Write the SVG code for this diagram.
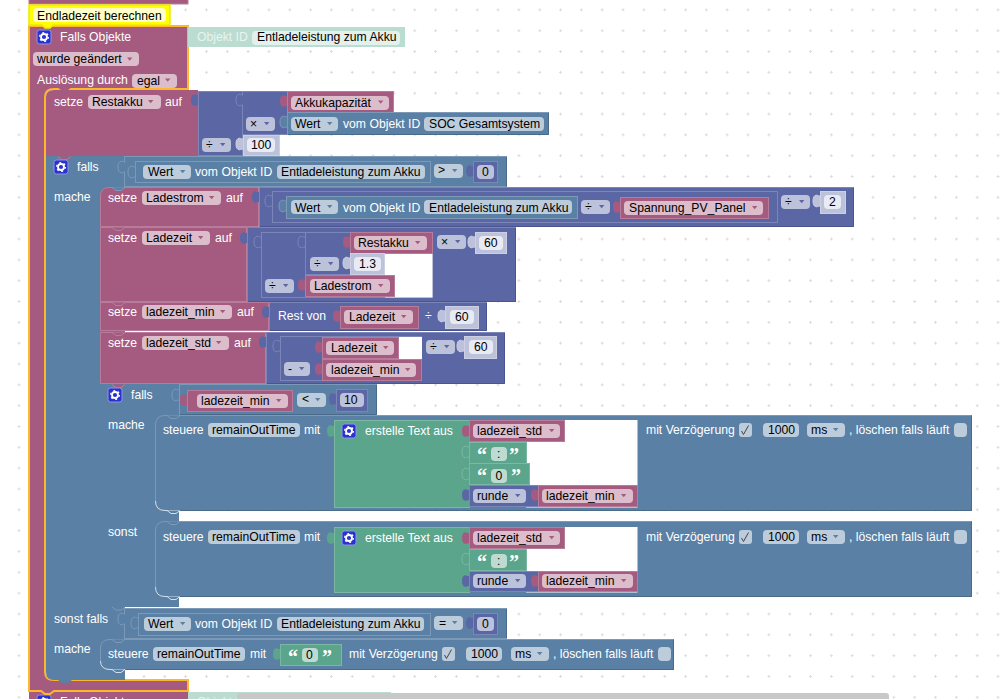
<svg xmlns="http://www.w3.org/2000/svg" width="1001" height="699" viewBox="0 0 1001 699">
<style>
text{font-family:"Liberation Sans",Arial,sans-serif;font-size:12.2px;fill:#000;white-space:pre}
text.w{fill:#fff}
.P{fill:#a55b80;stroke:#b77c99;stroke-width:1}
.B{fill:#5b80a5;stroke:#7c99b7;stroke-width:1}
.M{fill:#5b67a5;stroke:#7c85b7;stroke-width:1}
.G{fill:#5ba58c;stroke:#7cb7a3;stroke-width:1}
.S{fill:#bdc2db;stroke:#cdd0e4;stroke-width:1}
.fp{fill:#dbbdcc}.fb{fill:#bdccdb}.fm{fill:#bdc2db}.fg{fill:#bddbd1}
.fw{fill:#e9ebf4}
.cP{fill:#a55b80}.cB{fill:#5b80a5}.cM{fill:#5b67a5}.cG{fill:#5ba58c}.cS{fill:#bdc2db}
.oB{fill:#5b80a5;stroke:#7c99b7;stroke-width:1}.oM{fill:#5b67a5;stroke:#7c85b7;stroke-width:1}.oG{fill:#5ba58c;stroke:#7cb7a3;stroke-width:1}.oS{fill:#bdc2db;stroke:#cdd0e4;stroke-width:1}
.nP{fill:#a55b80;stroke:#b77c99;stroke-width:1}.nB{fill:#5b80a5;stroke:#7c99b7;stroke-width:1}.nW{fill:#5b80a5;stroke:#d5dfe9;stroke-width:1}
.ap{fill:#a55b80}.ab{fill:#5b80a5}.am{fill:#5b67a5}
.q{font-family:"Liberation Serif",serif;font-size:20px;font-weight:bold;fill:#fff}
.hb{fill:none;stroke:#7c99b7;stroke-width:1}
.hw{fill:none;stroke:#d5dfe9;stroke-width:1}
.db{fill:none;stroke:#4a6a8a;stroke-width:1}
.dm{fill:none;stroke:#4a5590;stroke-width:1}
</style>
<defs>
<pattern id="grid" x="17.5" y="8.4" width="20.83" height="20.83" patternUnits="userSpaceOnUse">
<path d="M0,1.5h3M1.5,0v3" stroke="#dcdcdc" stroke-width="1" fill="none"/>
</pattern>
<path id="a" d="M0,0h5.4l-2.700,3.200z"/>
<path id="tab" d="M0,5C-2,5 -2.500,4 -3.800,4.200C-6,4.600 -7,6.500 -7,10C-7,13.500 -6,15.400 -3.800,15.800C-2.500,16 -2,15 0,15"/>
<path id="n" d="M0,0l4,3h5l4,-3"/>
<g id="gear">
<rect width="14" height="14" rx="2.500" fill="#2a33cf" stroke="#8f95e6" stroke-width="1"/>
<circle cx="7" cy="7" r="3" fill="none" stroke="#fff" stroke-width="1.800"/>
<circle cx="7" cy="7" r="4.300" fill="none" stroke="#fff" stroke-width="1.400" stroke-dasharray="1.900 2.600"/>
</g>
</defs>
<rect width="1001" height="699" fill="#fff"/>
<rect width="1001" height="699" fill="url(#grid)"/>

<g id="previous-block"><rect x="29" y="-2" width="159" height="6" class="P"/></g>

<g id="next-block">
<rect x="29" y="692" width="159" height="8" fill="#a55b80"/>
<use href="#gear" x="37" y="695"/>
<text class="w" x="60" y="706">Falls Objekte</text>
<rect x="188" y="692" width="203" height="8" fill="#bbdcd1"/>
<text x="197" y="706" style="fill:#e9f4f0">Objekt ID</text>
<path d="M237,699V696Q237,693 240,693H886Q889,693 889,696V699z" fill="#c8c8c8"/>
</g>

<g id="trigger-falls-objekte">
<path d="M29,26H188V89H71l-4,3h-5l-4,-3H54Q45,89 45,97V672Q45,680 54,680H188V691H54l-4,3h-5l-4,-3H29z" fill="#a55b80" stroke="#fdb72c" stroke-width="2"/>
<use href="#gear" x="37" y="30"/>
<text class="w" x="60" y="41">Falls Objekte</text>
<rect x="33" y="52" width="106" height="14" rx="4" class="fp"/><text x="37" y="63">wurde geändert</text><use href="#a" x="127" y="57.500" class="ap"/>
<text class="w" x="37" y="84">Auslösung durch</text>
<rect x="132" y="74" width="45" height="14" rx="4" class="fp"/><text x="137" y="84.500">egal</text><use href="#a" x="165" y="78.500" class="ap"/>
</g>

<g id="comment">
<path d="M29,5H170V25H53l-3,3h-5l-3,-3H29z" fill="#ffff00" stroke="#ecec00" stroke-width="1.500"/>
<rect x="33" y="8" width="133" height="14" rx="4" fill="#ffffcc"/>
<text x="37" y="19.500">Endladezeit berechnen</text>
</g>

<g id="objekt-id-shadow">
<rect x="188" y="27" width="217" height="20" fill="#bbdcd1"/>
<text x="197" y="41" style="fill:#e9f4f0">Objekt ID</text>
<rect x="252" y="31" width="148" height="14" rx="4" fill="#e3f0eb"/><text x="257" y="41">Entladeleistung zum Akku</text>
</g>

<g id="setze-restakku">
<path d="M54,90H198V156H46V97Q46,90 54,90z" fill="#a55b80"/>
<text class="w" x="54" y="106">setze</text>
<rect x="88" y="95" width="73" height="14" rx="4" class="fp"/><text x="92" y="106">Restakku</text><use href="#a" x="148" y="100" class="ap"/>
<text class="w" x="165" y="106">auf</text>
<rect x="198.500" y="91.500" width="44" height="64" class="M"/>
<rect x="242.500" y="91.500" width="45" height="43" class="M"/>
<rect x="287.500" y="91.500" width="106" height="21" class="P"/>
<rect x="291" y="96" width="98" height="14" rx="4" class="fp"/><text x="295" y="106.500">Akkukapazität</text><use href="#a" x="378" y="100.500" class="ap"/>
<rect x="246" y="117" width="29" height="14" rx="4" class="fm"/><text x="250" y="127.500">×</text><use href="#a" x="264" y="122" class="am"/>
<rect x="287.500" y="112.500" width="261" height="22" class="B"/>
<path class="db" d="M548.500,113V134.500H288"/>
<rect x="291" y="117" width="47" height="14" rx="4" class="fb"/><text x="295" y="128">Wert</text><use href="#a" x="327" y="122" class="ab"/>
<text class="w" x="343" y="128">vom Objekt ID</text>
<rect x="424" y="117" width="120" height="14" rx="4" class="fb"/><text x="429" y="128">SOC Gesamtsystem</text>
<rect x="202" y="138" width="29" height="14" rx="4" class="fm"/><text x="206" y="149">÷</text><use href="#a" x="220" y="143" class="am"/>
<rect x="243.500" y="135.500" width="36" height="20" class="S"/>
<rect x="247" y="138" width="28" height="14" rx="4" class="fw"/><text x="251" y="149">100</text>
</g>

<g id="falls-1">
<path d="M46,156H125V680H72l-4,3h-6l-4,-3H54Q46,680 46,672z" fill="#5b80a5"/>
<rect x="124.500" y="156.500" width="382" height="30" class="B"/>
<path class="db" d="M506.500,157V186.500"/>
<use href="#gear" x="54" y="160"/>
<text class="w" x="77" y="171">falls</text>
<text class="w" x="54" y="201">mache</text>
<rect x="135.500" y="161.500" width="295" height="21" class="B"/>
<rect x="143" y="165" width="48" height="14" rx="4" class="fb"/><text x="148" y="176">Wert</text><use href="#a" x="180" y="170" class="ab"/>
<text class="w" x="195" y="176">vom Objekt ID</text>
<rect x="277" y="165" width="148" height="14" rx="4" class="fb"/><text x="281" y="176">Entladeleistung zum Akku</text>
<rect x="434" y="164" width="29" height="14" rx="4" class="fb"/><text x="438" y="174">&gt;</text><use href="#a" x="452" y="169" class="ab"/>
<rect x="473.500" y="161.500" width="24" height="21" class="M"/>
<rect x="477" y="165" width="17" height="14" rx="4" class="fm"/><text x="482" y="176">0</text>
</g>

<g id="setze-ladestrom">
<path class="P" d="M100.500,196Q100.500,187.500 109,187.500H258.500V226.500H100.500z"/>
<text class="w" x="108" y="202">setze</text>
<rect x="142" y="191" width="79" height="14" rx="4" class="fp"/><text x="146" y="202">Ladestrom</text><use href="#a" x="209" y="196" class="ap"/>
<text class="w" x="226" y="202">auf</text>
<rect x="259.500" y="187.500" width="594" height="39" class="M"/>
<path class="dm" d="M853.500,188V226.500H260"/>
<rect x="272.500" y="191.500" width="505" height="31" class="M"/>
<rect x="286.500" y="196.500" width="291" height="22" class="B"/>
<rect x="291" y="200" width="47" height="14" rx="4" class="fb"/><text x="295" y="211.500">Wert</text><use href="#a" x="327" y="205" class="ab"/>
<text class="w" x="343" y="211.500">vom Objekt ID</text>
<rect x="424" y="200" width="148" height="14" rx="4" class="fb"/><text x="429" y="211.500">Entladeleistung zum Akku</text>
<rect x="581" y="200" width="29" height="14" rx="4" class="fm"/><text x="585" y="211">÷</text><use href="#a" x="599" y="205" class="am"/>
<rect x="620.500" y="197.500" width="148" height="21" class="P"/>
<rect x="624" y="201" width="139" height="14" rx="4" class="fp"/><text x="629" y="212">Spannung_PV_Panel</text><use href="#a" x="752" y="206" class="ap"/>
<rect x="781" y="195" width="29" height="14" rx="4" class="fm"/><text x="785" y="206">÷</text><use href="#a" x="799" y="200" class="am"/>
<rect x="820.500" y="191.500" width="25" height="22" class="S"/>
<rect x="824" y="195" width="17" height="14" rx="4" class="fw"/><text x="829" y="206">2</text>
</g>

<g id="setze-ladezeit">
<rect x="100.500" y="227.500" width="146" height="74" class="P"/>
<text class="w" x="108" y="242">setze</text>
<rect x="142" y="231" width="68" height="14" rx="4" class="fp"/><text x="146" y="242">Ladezeit</text><use href="#a" x="198" y="236" class="ap"/>
<text class="w" x="215" y="242">auf</text>
<rect x="247.500" y="227.500" width="268" height="74" class="M"/>
<path class="dm" d="M515.500,228V301.500H248"/>
<rect x="261.500" y="232.500" width="171" height="65" class="M"/>
<rect x="305.500" y="232.500" width="80" height="42" class="M"/>
<rect x="385" y="253" width="47.500" height="44.500" fill="#fff"/>
<rect x="350.500" y="232.500" width="82" height="21" class="P"/>
<rect x="354" y="236" width="73" height="14" rx="4" class="fp"/><text x="358" y="247">Restakku</text><use href="#a" x="415" y="241" class="ap"/>
<rect x="310" y="257" width="29" height="14" rx="4" class="fm"/><text x="314" y="268">÷</text><use href="#a" x="328" y="262" class="am"/>
<rect x="350.500" y="253.500" width="34" height="21" class="S"/>
<rect x="354" y="257" width="27" height="14" rx="4" class="fw"/><text x="359" y="268">1.3</text>
<rect x="265" y="279" width="29" height="14" rx="4" class="fm"/><text x="269" y="290">÷</text><use href="#a" x="283" y="284" class="am"/>
<rect x="305.500" y="275.500" width="89" height="21" class="P"/>
<rect x="310" y="279" width="80" height="14" rx="4" class="fp"/><text x="314" y="290">Ladestrom</text><use href="#a" x="378" y="284" class="ap"/>
<rect x="437" y="235" width="29" height="14" rx="4" class="fm"/><text x="441" y="246">×</text><use href="#a" x="455" y="240" class="am"/>
<rect x="475.500" y="232.500" width="31" height="21" class="S"/>
<rect x="479" y="236" width="24" height="14" rx="4" class="fw"/><text x="484" y="247">60</text>
</g>

<g id="setze-ladezeit-min">
<rect x="100.500" y="302.500" width="168" height="28" class="P"/>
<text class="w" x="108" y="316">setze</text>
<rect x="142" y="305" width="90" height="14" rx="4" class="fp"/><text x="146" y="316">ladezeit_min</text><use href="#a" x="220" y="310" class="ap"/>
<text class="w" x="237" y="316">auf</text>
<rect x="269.500" y="302.500" width="217" height="28" class="M"/>
<path class="dm" d="M486.500,303V330.500H270"/>
<text class="w" x="278" y="320">Rest von</text>
<rect x="340.500" y="306.500" width="78" height="22" class="P"/>
<rect x="344" y="310" width="69" height="14" rx="4" class="fp"/><text x="349" y="320.500">Ladezeit</text><use href="#a" x="401" y="315" class="ap"/>
<text class="w" x="425" y="320">÷</text>
<rect x="445.500" y="306.500" width="33" height="22" class="S"/>
<rect x="450" y="310" width="24" height="14" rx="4" class="fw"/><text x="455" y="321">60</text>
</g>

<g id="setze-ladezeit-std">
<rect x="100.500" y="332.500" width="165" height="51" class="P"/>
<text class="w" x="108" y="347">setze</text>
<rect x="142" y="336" width="87" height="14" rx="4" class="fp"/><text x="146" y="347">ladezeit_std</text><use href="#a" x="216" y="341" class="ap"/>
<text class="w" x="234" y="347">auf</text>
<rect x="266.500" y="332.500" width="238" height="51" class="M"/>
<path class="dm" d="M504.500,333V383.500H267"/>
<rect x="280.500" y="336.500" width="141" height="44" class="M"/>
<rect x="398" y="337" width="24" height="22" fill="#fff"/>
<rect x="322.500" y="337.500" width="76" height="21" class="P"/>
<rect x="326" y="341" width="68" height="14" rx="4" class="fp"/><text x="331" y="352">Ladezeit</text><use href="#a" x="383" y="346" class="ap"/>
<rect x="284" y="362" width="26" height="14" rx="4" class="fm"/><text x="288" y="373">-</text><use href="#a" x="299" y="367" class="am"/>
<rect x="322.500" y="359.500" width="99" height="21" class="P"/>
<rect x="326" y="363" width="90" height="14" rx="4" class="fp"/><text x="331" y="373.500">ladezeit_min</text><use href="#a" x="405" y="368" class="ap"/>
<rect x="426" y="340" width="29" height="14" rx="4" class="fm"/><text x="430" y="351">÷</text><use href="#a" x="444" y="345" class="am"/>
<rect x="464.500" y="336.500" width="32" height="22" class="S"/>
<rect x="469" y="340" width="24" height="14" rx="4" class="fw"/><text x="474" y="351">60</text>
</g>

<g id="falls-2">
<path d="M100,384H179V521H179V607H100z" fill="#5b80a5"/>
<rect x="179.500" y="384.500" width="197" height="30.500" class="B"/>
<path class="db" d="M376.500,385V414.500H180"/>
<use href="#gear" x="108" y="388"/>
<text class="w" x="131" y="399">falls</text>
<text class="w" x="108" y="429">mache</text>
<text class="w" x="108" y="536">sonst</text>
<rect x="187.500" y="390.500" width="105" height="21" class="P"/>
<rect x="197" y="394" width="91" height="14" rx="4" class="fp"/><text x="201" y="404.500">ladezeit_min</text><use href="#a" x="276" y="399" class="ap"/>
<rect x="297" y="393" width="29" height="14" rx="4" class="fb"/><text x="302" y="403">&lt;</text><use href="#a" x="315" y="398" class="ab"/>
<rect x="336.500" y="389.500" width="31" height="22" class="M"/>
<rect x="340" y="393" width="24" height="14" rx="4" class="fm"/><text x="344" y="404">10</text>
</g>

<g id="steuere-1">
<path d="M155,425Q155,415 165,415H972V511H165Q155,511 155,501z" fill="#5b80a5"/>
<path class="hb" d="M155.500,501V425Q155.500,415.500 165,415.500H971"/>
<path class="hw" d="M155.500,501Q155.500,510.500 165,510.500H179"/>
<path class="db" d="M971.500,416V510.500H180"/>
<path d="M565,420H637.500V507.500H526V442H565z" fill="#fff"/>
<text class="w" x="163" y="434">steuere</text>
<rect x="208" y="423" width="92" height="14" rx="4" class="fb"/><text x="212" y="434">remainOutTime</text>
<text class="w" x="304" y="434">mit</text>
<rect x="334.500" y="420.500" width="135" height="87" class="G"/>
<use href="#gear" x="342" y="424"/>
<text class="w" x="365" y="435">erstelle Text aus</text>
<rect x="469.500" y="420.500" width="95" height="21" class="P"/>
<rect x="473" y="424" width="87" height="14" rx="4" class="fp"/><text x="477" y="435">ladezeit_std</text><use href="#a" x="549" y="429" class="ap"/>
<rect x="469.500" y="442.500" width="57" height="21" class="G"/>
<text class="q" x="477" y="462">“</text><rect x="491" y="447" width="16" height="14" rx="4" class="fg"/><text x="497" y="458">:</text><text class="q" x="509" y="462">”</text>
<rect x="469.500" y="463.500" width="60" height="21" class="G"/>
<text class="q" x="477" y="483">“</text><rect x="491" y="469" width="16" height="14" rx="4" class="fg"/><text x="495.500" y="480">0</text><text class="q" x="511" y="483">”</text>
<rect x="469.500" y="485.500" width="69" height="21" class="M"/>
<rect x="473" y="489" width="53" height="14" rx="4" class="fm"/><text x="477" y="500">runde</text><use href="#a" x="515" y="494" class="am"/>
<rect x="538.500" y="485.500" width="99" height="21" class="P"/>
<rect x="542" y="489" width="91" height="14" rx="4" class="fp"/><text x="546" y="500">ladezeit_min</text><use href="#a" x="621" y="494" class="ap"/>
<text class="w" x="646" y="434">mit Verzögerung</text>
<rect x="739" y="423" width="13" height="14" rx="3" class="fb"/><path d="M741.500,431l2,3.500l5,-9" fill="none" stroke="#444" stroke-width="1"/>
<rect x="763" y="423" width="36" height="14" rx="4" class="fb"/><text x="768" y="434">1000</text>
<rect x="807" y="423" width="38" height="14" rx="4" class="fb"/><text x="811" y="434">ms</text><use href="#a" x="833" y="428" class="ab"/>
<text class="w" x="849" y="434">, löschen falls läuft</text>
<rect x="954" y="423" width="13" height="14" rx="4" class="fb"/>
</g>

<g id="steuere-2">
<path d="M155,531Q155,521 165,521H972V597H165Q155,597 155,587z" fill="#5b80a5"/>
<path class="hb" d="M155.500,587V531Q155.500,521.500 165,521.500H971"/>
<path class="hw" d="M155.500,587Q155.500,596.500 165,596.500H179"/>
<path class="db" d="M971.500,522V596.500H180"/>
<path d="M565,527H637.500V592.500H526V549H565z" fill="#fff"/>
<text class="w" x="163" y="541">steuere</text>
<rect x="208" y="530" width="92" height="14" rx="4" class="fb"/><text x="212" y="541">remainOutTime</text>
<text class="w" x="304" y="541">mit</text>
<rect x="334.500" y="527.500" width="135" height="65" class="G"/>
<use href="#gear" x="342" y="531"/>
<text class="w" x="365" y="542">erstelle Text aus</text>
<rect x="469.500" y="527.500" width="95" height="21" class="P"/>
<rect x="473" y="531" width="87" height="14" rx="4" class="fp"/><text x="477" y="542">ladezeit_std</text><use href="#a" x="549" y="536" class="ap"/>
<rect x="469.500" y="549.500" width="57" height="21" class="G"/>
<text class="q" x="477" y="569">“</text><rect x="491" y="554" width="16" height="14" rx="4" class="fg"/><text x="497" y="565">:</text><text class="q" x="509" y="569">”</text>
<rect x="469.500" y="571.500" width="69" height="20" class="M"/>
<rect x="473" y="574" width="53" height="14" rx="4" class="fm"/><text x="477" y="585">runde</text><use href="#a" x="515" y="579" class="am"/>
<rect x="538.500" y="571.500" width="99" height="20" class="P"/>
<rect x="542" y="574" width="91" height="14" rx="4" class="fp"/><text x="546" y="585">ladezeit_min</text><use href="#a" x="621" y="579" class="ap"/>
<text class="w" x="646" y="541">mit Verzögerung</text>
<rect x="739" y="530" width="13" height="14" rx="3" class="fb"/><path d="M741.500,538l2,3.500l5,-9" fill="none" stroke="#444" stroke-width="1"/>
<rect x="763" y="530" width="36" height="14" rx="4" class="fb"/><text x="768" y="541">1000</text>
<rect x="807" y="530" width="38" height="14" rx="4" class="fb"/><text x="811" y="541">ms</text><use href="#a" x="833" y="535" class="ab"/>
<text class="w" x="849" y="541">, löschen falls läuft</text>
<rect x="954" y="530" width="13" height="14" rx="4" class="fb"/>
</g>

<g id="sonst-falls">
<text class="w" x="54" y="623">sonst falls</text>
<text class="w" x="54" y="653">mache</text>
<rect x="124.500" y="608.500" width="382" height="30" class="B"/>
<path class="db" d="M506.500,609V638"/>
<rect x="138.500" y="613.500" width="292" height="22" class="B"/>
<rect x="144" y="617" width="47" height="14" rx="4" class="fb"/><text x="148" y="628">Wert</text><use href="#a" x="180" y="622" class="ab"/>
<text class="w" x="195" y="628">vom Objekt ID</text>
<rect x="277" y="617" width="147" height="14" rx="4" class="fb"/><text x="281" y="628">Entladeleistung zum Akku</text>
<rect x="434" y="616" width="29" height="14" rx="4" class="fb"/><text x="439" y="627">=</text><use href="#a" x="452" y="621" class="ab"/>
<rect x="473.500" y="613.500" width="24" height="21" class="M"/>
<rect x="477" y="617" width="17" height="14" rx="4" class="fm"/><text x="482" y="628">0</text>
</g>

<g id="steuere-3">
<path d="M100,648Q100,639 110,639H674V670H110Q100,670 100,661z" fill="#5b80a5"/>
<path class="hb" d="M100.500,661V648Q100.500,639.500 110,639.500H673"/>
<path class="hw" d="M100.500,661Q100.500,669.500 110,669.500H125"/>
<path class="db" d="M673.500,640V669.500H126"/>
<text class="w" x="108" y="658">steuere</text>
<rect x="153" y="647" width="92" height="14" rx="4" class="fb"/><text x="157" y="658">remainOutTime</text>
<text class="w" x="250" y="658">mit</text>
<rect x="280.500" y="644.500" width="61" height="21" class="G"/>
<text class="q" x="288" y="664">“</text><rect x="302" y="648" width="16" height="14" rx="4" class="fg"/><text x="306" y="659">0</text><text class="q" x="322" y="664">”</text>
<text class="w" x="349" y="658">mit Verzögerung</text>
<rect x="442" y="647" width="13" height="14" rx="3" class="fb"/><path d="M444.500,655l2,3.500l5,-9" fill="none" stroke="#444" stroke-width="1"/>
<rect x="466" y="647" width="36" height="14" rx="4" class="fb"/><text x="471" y="658">1000</text>
<rect x="511" y="647" width="38" height="14" rx="4" class="fb"/><text x="515" y="658">ms</text><use href="#a" x="537" y="652" class="ab"/>
<text class="w" x="553" y="658">, löschen falls läuft</text>
<rect x="658" y="647" width="13" height="14" rx="4" class="fb"/>
</g>

<g id="connectors">
<use href="#n" x="58" y="156.500" class="nP"/>
<use href="#n" x="112" y="187.500" class="nB"/>
<use href="#n" x="112" y="227.500" class="nP"/>
<use href="#n" x="112" y="302.500" class="nP"/>
<use href="#n" x="112" y="332.500" class="nP"/>
<use href="#n" x="112" y="384.500" class="nP"/>
<use href="#n" x="167" y="415.500" class="nB"/>
<use href="#n" x="167" y="521.500" class="nB"/>
<use href="#n" x="112" y="639.500" class="nB"/>
<use href="#n" x="167" y="510.500" class="nW"/>
<use href="#n" x="167" y="596.500" class="nW"/>
<use href="#n" x="112" y="669.500" class="nW"/>
<use href="#n" x="112" y="607" class="nB"/>
<use href="#tab" x="198" y="90" class="cM"/>
<use href="#tab" x="243" y="90" class="oM"/>
<use href="#tab" x="287" y="91" class="cP"/>
<use href="#tab" x="287" y="112" class="oB"/>
<use href="#tab" x="243" y="134" class="oS"/>
<use href="#tab" x="125" y="157" class="oB"/>
<use href="#tab" x="135" y="162" class="oB"/>
<use href="#tab" x="473" y="161" class="cM"/>
<use href="#tab" x="259" y="187" class="cM"/>
<use href="#tab" x="272" y="191" class="oM"/>
<use href="#tab" x="286" y="196" class="oB"/>
<use href="#tab" x="620" y="197" class="cP"/>
<use href="#tab" x="820" y="191" class="oS"/>
<use href="#tab" x="247" y="228" class="cM"/>
<use href="#tab" x="261" y="232" class="oM"/>
<use href="#tab" x="305" y="232" class="oM"/>
<use href="#tab" x="350" y="232" class="cP"/>
<use href="#tab" x="350" y="253" class="oS"/>
<use href="#tab" x="305" y="275" class="cP"/>
<use href="#tab" x="475" y="232" class="oS"/>
<use href="#tab" x="269" y="302" class="cM"/>
<use href="#tab" x="340" y="306" class="cP"/>
<use href="#tab" x="445" y="306" class="oS"/>
<use href="#tab" x="266" y="332" class="cM"/>
<use href="#tab" x="280" y="336" class="oM"/>
<use href="#tab" x="322" y="337" class="cP"/>
<use href="#tab" x="322" y="359" class="cP"/>
<use href="#tab" x="464" y="336" class="oS"/>
<use href="#tab" x="179" y="385" class="oB"/>
<use href="#tab" x="187" y="390" class="cP"/>
<use href="#tab" x="336" y="389" class="cM"/>
<use href="#tab" x="334" y="421" class="cG"/>
<use href="#tab" x="469" y="421" class="cP"/>
<use href="#tab" x="469" y="442" class="oG"/>
<use href="#tab" x="469" y="464" class="oG"/>
<use href="#tab" x="469" y="485" class="cM"/>
<use href="#tab" x="538" y="485" class="cP"/>
<use href="#tab" x="334" y="528" class="cG"/>
<use href="#tab" x="469" y="528" class="cP"/>
<use href="#tab" x="469" y="549" class="oG"/>
<use href="#tab" x="469" y="571" class="cM"/>
<use href="#tab" x="538" y="571" class="cP"/>
<use href="#tab" x="125" y="609" class="oB"/>
<use href="#tab" x="138" y="613" class="oB"/>
<use href="#tab" x="473" y="613" class="cM"/>
<use href="#tab" x="280" y="644" class="cG"/>
</g>
</svg>
